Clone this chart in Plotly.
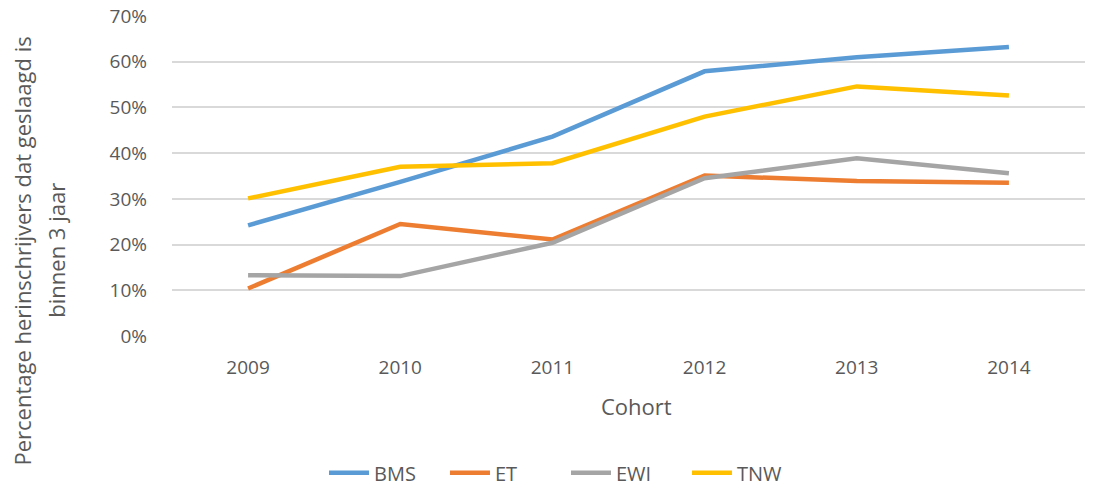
import plotly.graph_objects as go

cohorts = ["2009", "2010", "2011", "2012", "2013", "2014"]
bms = [0.242, 0.337, 0.436, 0.579, 0.610, 0.632]
et = [0.104, 0.245, 0.211, 0.351, 0.339, 0.335]
ewi = [0.133, 0.131, 0.204, 0.345, 0.389, 0.356]
tnw = [0.301, 0.370, 0.378, 0.480, 0.546, 0.526]

series = [
    ("BMS", bms, "#5B9BD5"),
    ("ET", et, "#ED7D31"),
    ("EWI", ewi, "#A5A5A5"),
    ("TNW", tnw, "#FFC000"),
]

FONT = "Open Sans"
GREY = "#595959"

fig = go.Figure()
for name, vals, color in series:
    fig.add_trace(
        go.Scatter(
            x=cohorts,
            y=vals,
            name=name,
            mode="lines",
            line=dict(color=color, width=4.5),
        )
    )

fig.update_layout(
    width=1099,
    height=491,
    plot_bgcolor="white",
    paper_bgcolor="white",
    margin=dict(l=172, r=14, t=16, b=155, autoexpand=False),
    font=dict(family=FONT, color=GREY, size=18),
    xaxis=dict(
        type="category",
        range=[-0.5, 5.5],
        showgrid=False,
        showline=False,
        ticks="",
        ticklabelstandoff=18,
        tickfont=dict(size=19, color=GREY),
    ),
    yaxis=dict(
        range=[0, 0.7],
        dtick=0.1,
        tickformat=".0%",
        gridcolor="#D9D9D9",
        gridwidth=1.5,
        zeroline=False,
        showline=False,
        ticklabelstandoff=24,
        tickfont=dict(size=19, color=GREY),
    ),
    legend=dict(
        orientation="h",
        xanchor="center",
        x=0.515,
        xref="container",
        yref="container",
        yanchor="middle",
        y=0.037,
        font=dict(size=20, color=GREY),
        itemwidth=40,
        entrywidth=66,
    ),
    showlegend=True,
)

fig.add_annotation(
    text="Cohort",
    xref="paper",
    yref="paper",
    x=0.509,
    y=-0.22,
    showarrow=False,
    yanchor="middle",
    font=dict(size=22, color=GREY, family=FONT),
)
ytitle_lines = ["Percentage herinschrijvers dat geslaagd is", "binnen 3 jaar"]
for line, xpos in zip(ytitle_lines, [-0.1643, -0.128]):
    fig.add_annotation(
        text=line,
        xref="paper",
        yref="paper",
        x=xpos,
        y=0.267,
        xanchor="center",
        yanchor="middle",
        textangle=-90,
        showarrow=False,
        font=dict(size=22, color=GREY, family=FONT),
    )

fig.write_html(
    "out.html",
    config={"displayModeBar": False},
    post_script="document.body.style.margin='0';",
)
